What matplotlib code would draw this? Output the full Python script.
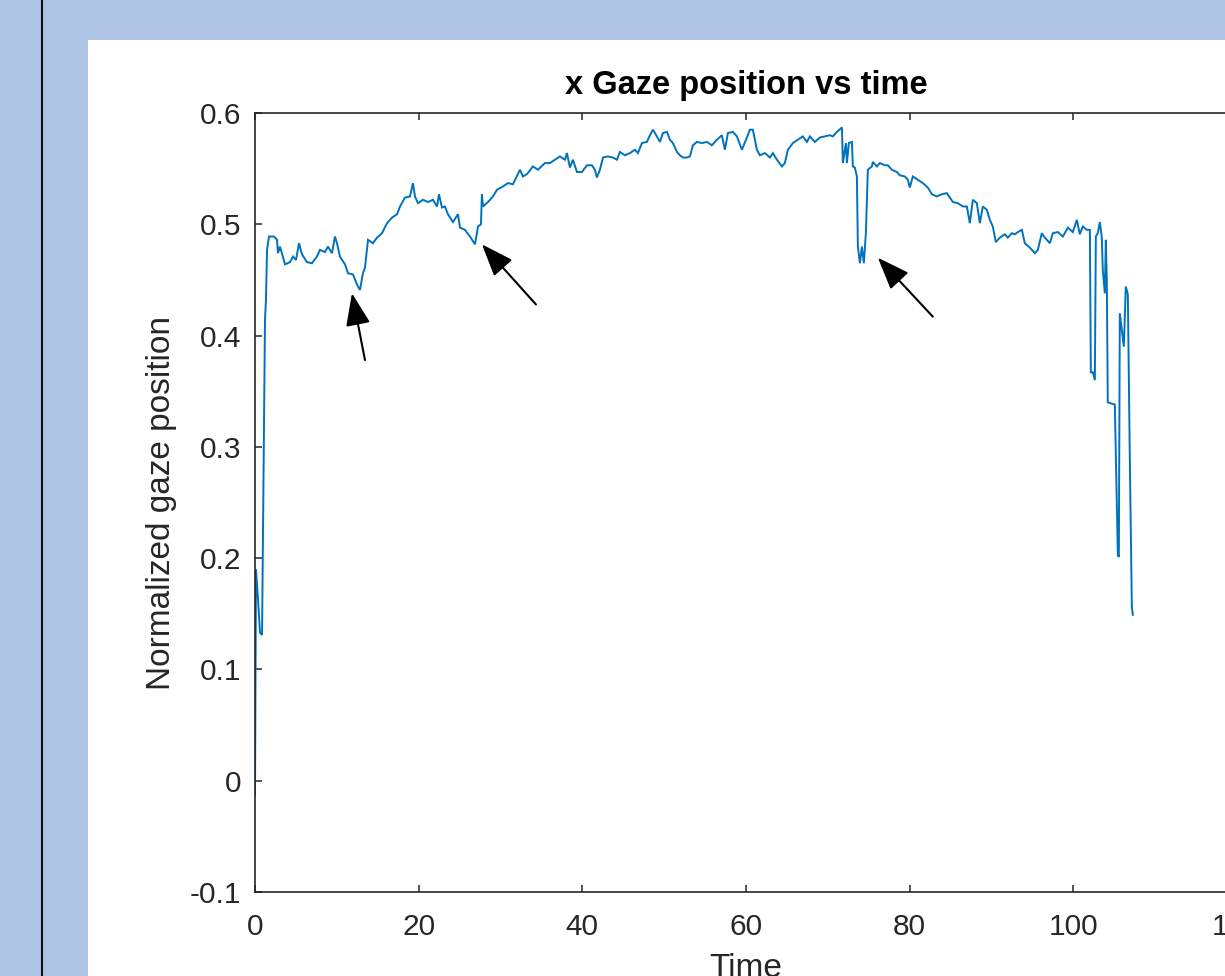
import matplotlib
matplotlib.use("Agg")
import matplotlib.pyplot as plt
from matplotlib.patches import Rectangle
from matplotlib.lines import Line2D

plt.rcParams['font.family'] = ['Liberation Sans', 'DejaVu Sans']
plt.rcParams['axes.unicode_minus'] = False

# ---------------- data ----------------
time = [0.00, 0.12, 0.37, 0.61, 0.86, 0.98, 1.10, 1.22, 1.34, 1.47, 1.71, 2.32, 2.69, 2.81, 3.05,
        3.67, 4.28, 4.64, 5.01, 5.38, 5.74, 6.35, 6.96, 7.57, 7.94, 8.55, 8.92, 9.41, 9.77, 10.02,
        10.38, 11.00, 11.36, 11.97, 12.46, 12.83, 13.19, 13.44, 13.81, 14.42, 14.91, 15.52, 16.13,
        16.74, 17.35, 17.72, 18.33, 18.94, 19.30, 19.55, 19.91, 20.53, 21.14, 21.75, 22.24, 22.48,
        22.85, 23.21, 23.58, 24.19, 24.80, 25.05, 25.66, 26.27, 26.88, 27.12, 27.25, 27.61, 27.73,
        27.86, 28.47, 29.08, 29.57, 30.30, 30.91, 31.52, 32.38, 32.74, 33.23, 33.96, 34.58, 35.43,
        36.04, 36.65, 37.26, 37.87, 38.12, 38.48, 38.85, 39.34, 39.95, 40.56, 41.17, 41.54, 41.78,
        42.15, 42.52, 43.13, 43.74, 44.23, 44.59, 45.20, 45.82, 46.43, 46.79, 47.28, 47.89, 48.26,
        48.63, 49.11, 49.48, 49.85, 50.34, 50.70, 51.07, 51.56, 51.92, 52.29, 52.78, 53.15, 53.51,
        54.00, 54.61, 55.22, 55.83, 56.44, 57.05, 57.42, 57.79, 58.40, 58.89, 59.50, 60.11, 60.48,
        60.84, 61.33, 61.70, 62.31, 62.92, 63.29, 63.78, 64.39, 64.75, 65.12, 65.73, 66.34, 66.95,
        67.44, 67.81, 68.42, 69.03, 69.65, 70.25, 70.62, 71.11, 71.72, 71.84, 72.21, 72.33, 72.57,
        72.94, 73.06, 73.30, 73.55, 73.67, 73.92, 74.16, 74.40, 74.65, 74.89, 75.38, 75.50, 75.99,
        76.36, 76.97, 77.34, 77.83, 78.44, 78.80, 79.41, 79.78, 80.02, 80.39, 81.00, 81.61, 82.22,
        82.71, 83.32, 83.93, 84.54, 84.91, 85.28, 85.89, 86.50, 86.99, 87.35, 87.72, 88.21, 88.58,
        88.94, 89.43, 89.80, 90.16, 90.53, 91.02, 91.63, 91.99, 92.49, 92.85, 93.22, 93.71, 94.07,
        94.69, 95.30, 95.66, 96.15, 96.52, 97.13, 97.50, 98.11, 98.72, 99.33, 99.94, 100.43, 100.79,
        101.16, 101.65, 102.02, 102.14, 102.38, 102.63, 102.75, 102.99, 103.24, 103.48, 103.60,
        103.85, 103.97, 104.09, 104.21, 105.07, 105.44, 105.56, 105.68, 105.93, 106.17, 106.41,
        106.66, 106.90, 107.15, 107.27]

gaze_x = [-0.013, 0.190, 0.163, 0.133, 0.131, 0.226, 0.324, 0.414, 0.432, 0.477, 0.489, 0.489, 0.486,
          0.474, 0.480, 0.464, 0.466, 0.471, 0.468, 0.483, 0.473, 0.466, 0.465, 0.471, 0.477, 0.475,
          0.480, 0.474, 0.489, 0.483, 0.471, 0.464, 0.456, 0.455, 0.446, 0.441, 0.456, 0.461, 0.486,
          0.483, 0.488, 0.492, 0.501, 0.506, 0.509, 0.516, 0.524, 0.525, 0.537, 0.525, 0.519, 0.522,
          0.520, 0.522, 0.516, 0.527, 0.515, 0.516, 0.509, 0.502, 0.509, 0.497, 0.495, 0.489, 0.482,
          0.492, 0.498, 0.500, 0.527, 0.516, 0.520, 0.525, 0.531, 0.534, 0.537, 0.536, 0.549, 0.543,
          0.545, 0.552, 0.549, 0.555, 0.555, 0.558, 0.561, 0.558, 0.564, 0.551, 0.558, 0.547, 0.547,
          0.553, 0.553, 0.549, 0.542, 0.549, 0.560, 0.561, 0.560, 0.558, 0.565, 0.562, 0.564, 0.567,
          0.564, 0.573, 0.574, 0.580, 0.585, 0.579, 0.574, 0.582, 0.583, 0.576, 0.573, 0.565, 0.562,
          0.560, 0.560, 0.561, 0.571, 0.574, 0.573, 0.574, 0.571, 0.576, 0.580, 0.567, 0.582, 0.583,
          0.579, 0.567, 0.578, 0.585, 0.585, 0.567, 0.562, 0.564, 0.560, 0.564, 0.558, 0.552, 0.555,
          0.567, 0.573, 0.576, 0.579, 0.574, 0.579, 0.574, 0.578, 0.579, 0.580, 0.579, 0.583, 0.587,
          0.555, 0.573, 0.555, 0.573, 0.574, 0.552, 0.551, 0.543, 0.480, 0.465, 0.480, 0.465, 0.492,
          0.549, 0.552, 0.556, 0.552, 0.555, 0.553, 0.553, 0.549, 0.547, 0.544, 0.543, 0.540, 0.533,
          0.543, 0.540, 0.537, 0.533, 0.527, 0.525, 0.527, 0.528, 0.524, 0.520, 0.519, 0.516, 0.516,
          0.501, 0.522, 0.519, 0.501, 0.516, 0.513, 0.504, 0.498, 0.484, 0.488, 0.491, 0.488, 0.492,
          0.491, 0.493, 0.495, 0.483, 0.479, 0.474, 0.477, 0.492, 0.488, 0.483, 0.492, 0.493, 0.489,
          0.497, 0.493, 0.504, 0.491, 0.498, 0.495, 0.495, 0.367, 0.367, 0.360, 0.489, 0.492, 0.502,
          0.488, 0.459, 0.438, 0.486, 0.450, 0.340, 0.338, 0.203, 0.201, 0.420, 0.405, 0.390, 0.444,
          0.437, 0.291, 0.156, 0.149]

# arrow annotations: (tail_time, tail_value) -> (head_time, head_value)
arrow_tails = [(13.44, 0.378), (34.33, 0.428), (82.83, 0.417)]
arrow_heads = [(11.85, 0.438), (27.73, 0.482), (76.11, 0.470)]

x_ticks = [0, 20, 40, 60, 80, 100, 120]
y_ticks = [-0.1, 0, 0.1, 0.2, 0.3, 0.4, 0.5, 0.6]
y_tick_labels = ['-0.1', '0', '0.1', '0.2', '0.3', '0.4', '0.5', '0.6']

title_text = 'x Gaze position vs time'
xlabel_text = 'Time'
ylabel_text = 'Normalized gaze position'

# ---------------- figure ----------------
W, H = 1225, 976
fig = plt.figure(figsize=(W / 100, H / 100), dpi=100)
fig.patch.set_facecolor('#afc3e5')

# white figure panel and dark vertical rule (screenshot frame)
fig.add_artist(Rectangle((88 / W, 0), 1 - 88 / W, (H - 40) / H, transform=fig.transFigure,
                         facecolor='white', edgecolor='none', zorder=0))
fig.add_artist(Line2D([42 / W, 42 / W], [0, 1], transform=fig.transFigure,
                      color='#111111', lw=1.5, zorder=1))

ax = fig.add_axes([255 / W, (H - 892) / H, 982 / W, 779 / H])
ax.set_facecolor('white')
ax.plot(time, gaze_x, color='#0072BD', lw=1.4, solid_joinstyle='miter')

ax.set_xlim(0, 120)
ax.set_ylim(-0.1, 0.6)
ax.set_xticks(x_ticks)
ax.set_yticks(y_ticks)
ax.set_yticklabels(y_tick_labels)

for s in ax.spines.values():
    s.set_color('#262626')
    s.set_linewidth(1.2)

ax.tick_params(axis='both', which='both', direction='in', length=5, width=1.1,
               color='#262626', labelcolor='#262626', labelsize=21.5,
               top=True, right=True)
ax.tick_params(axis='y', pad=10)
ax.tick_params(axis='x', pad=15)

ax.set_title(title_text, fontsize=23.5, fontweight='bold', color='black', pad=14)
ax.set_xlabel(xlabel_text, fontsize=24, color='#262626', labelpad=9)
ax.set_ylabel(ylabel_text, fontsize=24, color='#262626', labelpad=9)

for tail, head in zip(arrow_tails, arrow_heads):
    ax.annotate('', xy=head, xytext=tail, xycoords='data', textcoords='data',
                arrowprops=dict(arrowstyle='-|>,head_length=1.0,head_width=0.38',
                                mutation_scale=20, color='black', lw=1.5,
                                shrinkA=0, shrinkB=0))

fig.savefig('out.png', dpi=100, facecolor=fig.get_facecolor())
